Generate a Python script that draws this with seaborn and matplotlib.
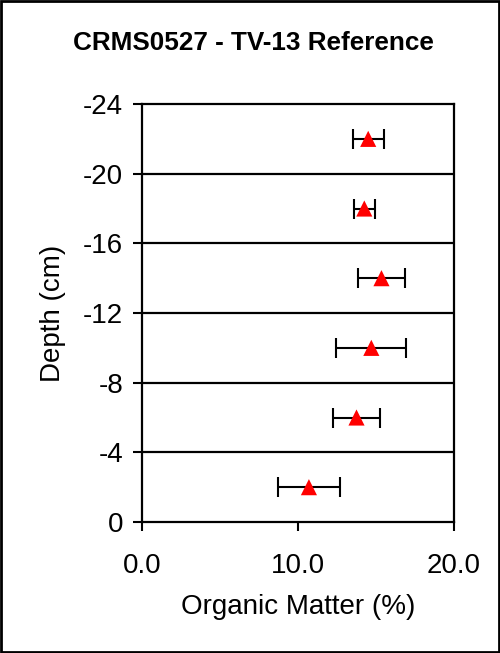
import matplotlib
matplotlib.use("Agg")
import matplotlib.pyplot as plt
import seaborn as sns
import pandas as pd
from matplotlib.patches import Rectangle

depth = [-2, -6, -10, -14, -18, -22]
organic = [10.7, 13.75, 14.7, 15.35, 14.25, 14.5]
err = [2.0, 1.48, 2.24, 1.5, 0.66, 1.0]
yticks = [0, -4, -8, -12, -16, -20, -24]
xticks = [0.0, 10.0, 20.0]

sns.set_theme(style="white")
plt.rcParams["font.family"] = ["Liberation Sans", "DejaVu Sans"]
plt.rcParams["axes.unicode_minus"] = False

df = pd.DataFrame({"depth": depth, "om": organic, "err": err})

fig = plt.figure(figsize=(5.0, 6.53), dpi=100)
ax = fig.add_axes([0.284, 0.2006, 0.624, 0.6401])

for yv in yticks[1:-1]:
    ax.axhline(yv, color="black", lw=1.6, zorder=1)

ax.errorbar(df["om"], df["depth"], xerr=df["err"], fmt="none", ecolor="black",
            elinewidth=1.5, capsize=7, capthick=1.5, zorder=2)
sns.scatterplot(data=df, x="om", y="depth", marker="^", color="red", s=135,
                edgecolor="none", ax=ax, zorder=3, legend=False)

ax.set_xlim(0, 20)
ax.set_ylim(0, -24)
ax.set_yticks(yticks)
ax.set_yticklabels([str(v) for v in yticks])
ax.set_xticks(xticks)
ax.set_xticklabels([f"{v:.1f}" for v in xticks])

for s in ax.spines.values():
    s.set_color("black")
    s.set_linewidth(1.6)

ax.tick_params(axis="both", which="major", direction="out", length=6.5, width=1.5,
               color="black", labelsize=20, labelcolor="black",
               left=True, bottom=True)
ax.tick_params(axis="y", pad=7)
ax.tick_params(axis="x", pad=15.5)
ax.set_xlabel("Organic Matter (%)", fontsize=20, color="black", labelpad=11)
ax.set_ylabel("Depth (cm)", fontsize=20, color="black", labelpad=12)
fig.text(0.506, 1 - 43 / 653, "CRMS0527 - TV-13 Reference", fontsize=18.8,
         fontweight="bold", color="black", ha="center", va="center")

fig.patches.append(Rectangle((0.002, 0.002), 0.996, 0.996, transform=fig.transFigure,
                             fill=False, edgecolor="black", lw=2.0))

fig.savefig("out.png", dpi=100)
